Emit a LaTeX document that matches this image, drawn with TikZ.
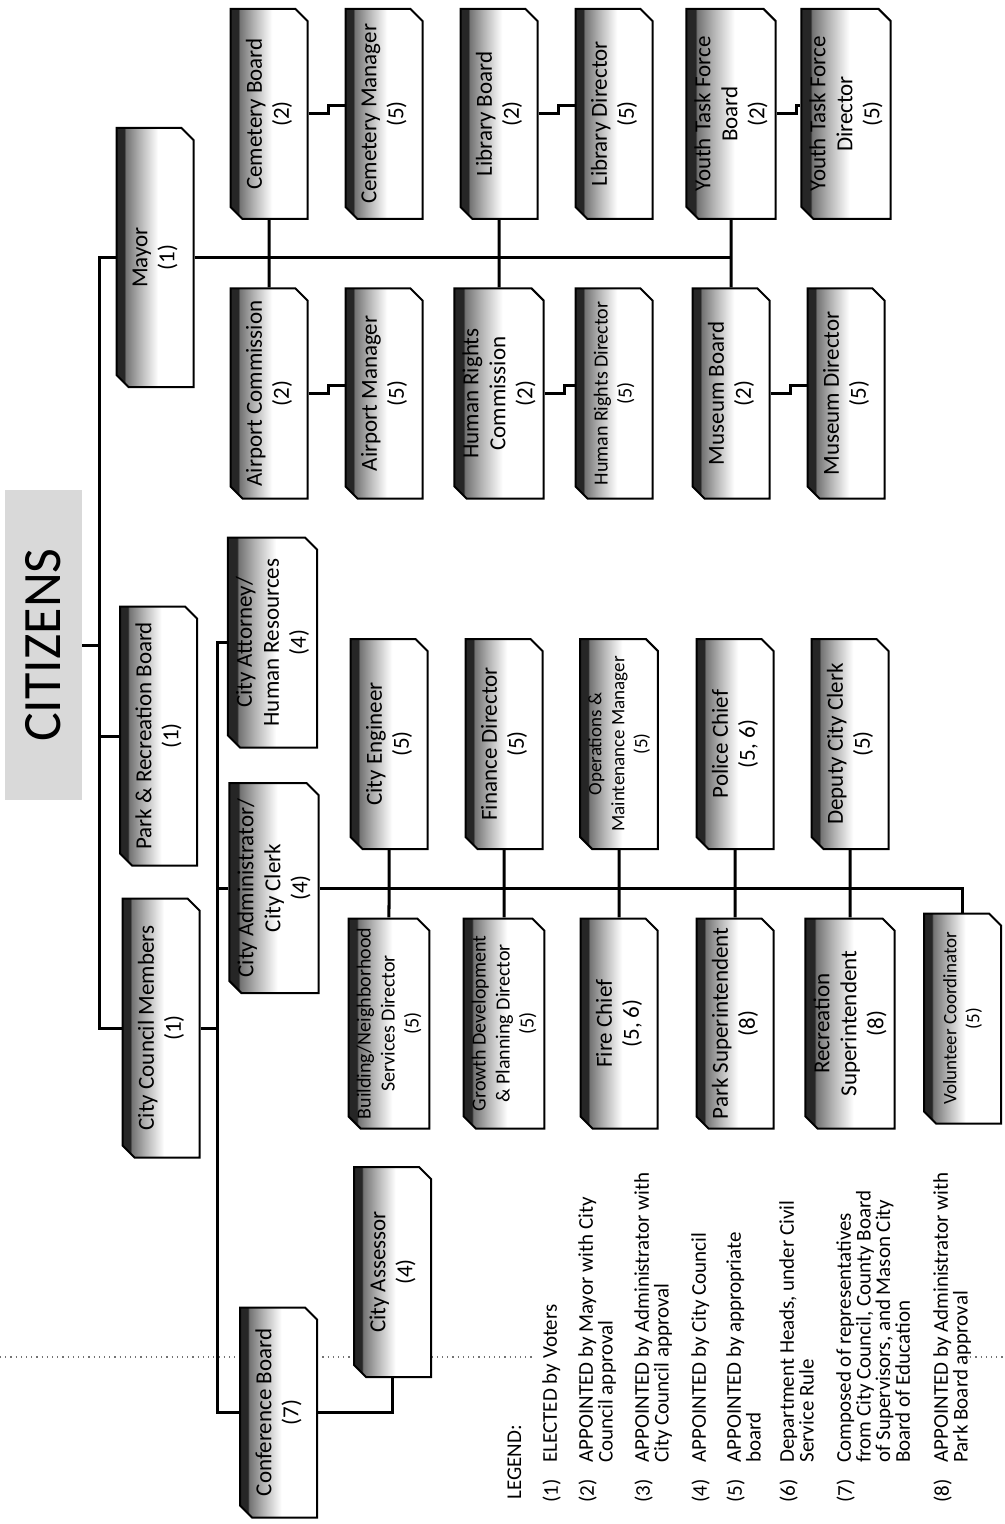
\documentclass[tikz,border=0pt]{standalone}
\usepackage{fontspec}
\setmainfont{Carlito}
\usetikzlibrary{shapes.misc,calc,backgrounds}

% dark edge on top of each box, fading to white
\pgfdeclareverticalshading{postshade}{100bp}{color(0bp)=(white); color(25bp)=(white); color(48bp)=(white); color(60bp)=(black!30); color(69bp)=(black!55); color(70bp)=(black!85); color(75bp)=(black!85); color(100bp)=(black!85)}

\begin{document}
\begin{tikzpicture}[
    x=0.5pt, y=-0.5pt,
    post/.style = {chamfered rectangle, chamfered rectangle corners={north west,south east},
      chamfered rectangle xsep=3pt, chamfered rectangle ysep=3pt,
      draw, line width=1pt, shade, shading=postshade, shading angle=90, rotate=90,
      minimum width=105pt, minimum height=38.5pt, inner sep=1pt, align=center,
      font=\fontsize{11.5}{13.5}\selectfont},
    big post/.style = {post, minimum width=129.5pt},
    small text/.style = {font=\fontsize{10}{12}\selectfont},
    tiny text/.style = {font=\fontsize{9.5}{11.5}\selectfont},
    link/.style = {line width=1.5pt},
    legnum/.style = {rotate=90, inner sep=0pt, font=\fontsize{10.5}{9.8}\selectfont},
    legtext/.style = {legnum, align=left}
  ]
  \useasboundingbox (0,0) rectangle (1005,1524);

  % top level
  \node[rotate=90, fill=black!15, minimum width=155pt, minimum height=38.5pt,
    font=\fontsize{27}{30}\selectfont] (citizens) at (43.5,645) {CITIZENS};
  \node[big post] (mayor)   at (155,257.5) {Mayor\\(1)};
  \node[big post] (parkrec) at (158.5,736) {Park \& Recreation Board\\(1)};
  \node[big post] (council) at (161,1028)  {City Council Members\\(1)};

  % boards under the mayor
  \node[post] (cemb) at (269,114) {Cemetery Board\\(2)};
  \node[post] (cemm) at (384,114) {Cemetery Manager\\(5)};
  \node[post] (libb) at (499,114) {Library Board\\(2)};
  \node[post] (libd) at (614,114) {Library Director\\(5)};
  \node[post] (youb) at (731,114) {Youth Task Force\\Board\\(2)};
  \node[post] (youd) at (846,114) {Youth Task Force\\Director\\(5)};
  \node[post] (airc) at (269,393.5) {Airport Commission\\(2)};
  \node[post] (airm) at (384,393.5) {Airport Manager\\(5)};
  \node[post] (hrc)  at (499,393.5) {Human Rights\\Commission\\(2)};
  \node[post, small text] (hrd) at (614,393.5) {Human Rights Director\\(5)};
  \node[post] (musb) at (731,393.5) {Museum Board\\(2)};
  \node[post] (musd) at (846,393.5) {Museum Director\\(5)};

  % administration
  \node[post] (attorney)   at (272.5,642.5) {City Attorney/\\Human Resources\\(4)};
  \node[post] (admin)      at (274,888)     {City Administrator/\\City Clerk\\(4)};
  \node[post] (conference) at (278.5,1412.5) {Conference Board\\(7)};
  \node[post] (assessor)   at (392.5,1272)  {City Assessor\\(4)};
  \node[post] (engineer)   at (389,744)     {City Engineer\\(5)};
  \node[post, small text] (building) at (389,1023.5) {Building/Neighborhood\\Services Director\\(5)};
  \node[post] (finance)    at (504,744)     {Finance Director\\(5)};
  \node[post, small text] (growth) at (504,1023.5) {Growth Development\\\& Planning Director\\(5)};
  \node[post, tiny text] (opsmgr) at (619,744) {Operations \&\\Maintenance Manager\\(5)};
  \node[post] (fire)       at (619,1023.5)  {Fire Chief\\(5, 6)};
  \node[post] (police)     at (735,744)     {Police Chief\\(5, 6)};
  \node[post] (parksup)    at (735,1023.5)  {Park Superintendent\\(8)};
  \node[post] (deputy)     at (850,744)     {Deputy City Clerk\\(5)};
  \node[post] (recsup)     at (850,1023.5)  {Recreation\\Superintendent\\(8)};
  \node[post, tiny text] (volunteer) at (962.5,1018.5) {Volunteer Coordinator\\(5)};

  % legend
  \node[legnum, anchor=north west] (legend) at (507,1500) {LEGEND:};
  \foreach \num/\xc/\txt in {
      1/551/{ELECTED by Voters},
      2/587/{APPOINTED by Mayor with City\\Council approval},
      3/643/{APPOINTED by Administrator with\\City Council approval},
      4/700/{APPOINTED by City Council},
      5/735/{APPOINTED by appropriate\\board},
      6/788/{Department Heads, under Civil\\Service Rule},
      7/845/{Composed of representatives\\from City Council, County Board\\of Supervisors, and Mason City\\Board of Education},
      8/942/{APPOINTED by Administrator with\\Park Board approval}}{
    \node[legnum, anchor=north west] (num\num) at (\xc-9,1503) {(\num)};
    \node[legtext, anchor=north west] (leg\num) at (\xc-9,1463) {\txt};
  }

  \coordinate (bus) at (99,0);
  \coordinate (adminbus) at (217,0);

  \begin{scope}[on background layer]
    % page break
    \draw[black!55, dotted, line width=0.6pt] (0,1357) -- (535,1357);
    \draw[black!55, dotted, line width=0.6pt] (965,1357) -- (1005,1357);

    \draw[link] (citizens.south) -- (bus |- citizens.south);
    \draw[link] (mayor.north) -- (bus |- mayor.north) -- (bus |- council.north) -- (council.north);
    \draw[link] (parkrec.north) -- (bus |- parkrec.north);

    \draw[link] (mayor.south) -- (mayor.south -| youb);
    \draw[link] (council.south) -- (adminbus |- council.south);
    \draw[link] (conference.north) -- (adminbus |- conference.north)
      -- (adminbus |- attorney.north) -- (attorney.north);
    \draw[link] (admin.north) -- (adminbus |- admin.north);
    \draw[link] (conference.south) -| (assessor.west);
    \draw[link] (admin.south) -| (volunteer.east);

    \foreach \a/\b in {cemb/airc, libb/hrc, youb/musb, engineer/building,
        finance/growth, opsmgr/fire, police/parksup, deputy/recsup}
      \draw[link] (\a) -- (\b);

    % boards to their managers
    \foreach \a/\b in {cemb/cemm, libb/libd, youb/youd, airc/airm, hrc/hrd, musb/musd}
      \draw[link] (\a.south) -- ++(20,0) |- ($(\b.north)+(0,-8)$);
  \end{scope}
\end{tikzpicture}
\end{document}
